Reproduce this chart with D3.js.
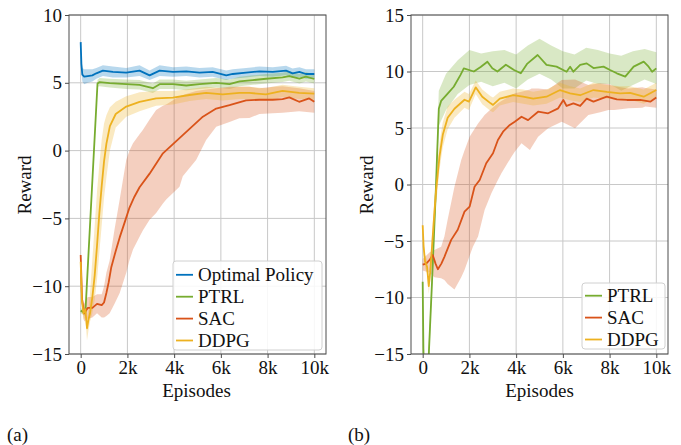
<!DOCTYPE html>
<html>
<head>
<meta charset="utf-8">
<script src="https://cdn.jsdelivr.net/npm/d3@7"></script>
<style>
  body { margin: 0; background: #fff; }
  svg text { font-family: "Liberation Serif", "Times New Roman", serif; fill: #111; }
</style>
</head>
<body>
<div id="chart"></div>
<script>
// ---------- panel (a) ----------
var optA_ep   = [0, 30, 70, 150, 300, 500, 670, 950, 1380, 1950, 2520, 2950, 3380, 3950, 4520, 5090, 5650, 6230, 6510, 7080, 7650, 8220, 8790, 9070, 9360, 9640, 10000]
var optA_mean = [8.0, 6.4, 5.6, 5.45, 5.5, 5.55, 5.7, 5.9, 5.8, 5.75, 5.9, 5.55, 5.9, 5.8, 5.85, 5.75, 5.8, 5.55, 5.65, 5.75, 5.85, 5.8, 5.9, 5.7, 5.8, 5.65, 5.65]
var optA_hi   = [8.1, 6.8, 6.1, 6.0, 6.0, 6.0, 6.1, 6.3, 6.2, 6.1, 6.3, 5.9, 6.3, 6.15, 6.2, 6.1, 6.15, 5.9, 6.0, 6.1, 6.2, 6.15, 6.25, 6.05, 6.15, 6.0, 6.0]
var optA_lo   = [7.9, 6.0, 5.1, 4.9, 5.0, 5.1, 5.3, 5.5, 5.4, 5.4, 5.5, 5.2, 5.5, 5.45, 5.5, 5.4, 5.45, 5.2, 5.3, 5.4, 5.5, 5.45, 5.55, 5.35, 5.45, 5.3, 5.3]

var ptrlA_ep   = [0, 100, 200, 720, 810, 1240, 1950, 2520, 3090, 3380, 3950, 4520, 5090, 5800, 6370, 6800, 7370, 7930, 8640, 8930, 9360, 9640, 10000]
var ptrlA_mean = [-11.8, -11.9, -12.0, 4.95, 5.05, 4.97, 4.9, 4.85, 4.6, 4.9, 4.9, 4.8, 4.9, 5.0, 4.9, 5.1, 5.2, 5.3, 5.4, 5.5, 5.3, 5.45, 5.28]
var ptrlA_hi   = [-11.6, -11.7, -11.8, 5.2, 5.35, 5.3, 5.25, 5.2, 4.95, 5.25, 5.25, 5.15, 5.25, 5.35, 5.25, 5.45, 5.55, 5.65, 5.75, 5.85, 5.65, 5.8, 5.6]
var ptrlA_lo   = [-12.0, -12.1, -12.2, 4.7, 4.75, 4.65, 4.55, 4.5, 4.25, 4.55, 4.55, 4.45, 4.55, 4.65, 4.55, 4.75, 4.85, 4.95, 5.05, 5.15, 4.95, 5.1, 4.95]

var sacA_ep   = [0, 60, 150, 300, 500, 700, 900, 1000, 1100, 1200, 1310, 1500, 1670, 1900, 2090, 2300, 2520, 2950, 3520, 4090, 4660, 5230, 5800, 6370, 7080, 7650, 8220, 8640, 8930, 9350, 9780, 10000]
var sacA_mean = [-7.7, -11.0, -12.0, -11.6, -11.6, -11.3, -11.4, -11.2, -10.5, -9.7, -8.6, -7.4, -6.4, -5.2, -4.2, -3.4, -2.7, -1.7, -0.2, 0.7, 1.6, 2.5, 3.1, 3.35, 3.7, 3.75, 3.75, 3.8, 3.93, 3.6, 3.85, 3.6]
var sacA_bandEp = [0, 60, 150, 300, 500, 700, 900, 1000, 1100, 1240, 1450, 1670, 1950, 2090, 2240, 2520, 2660, 2950, 3230, 3520, 3660, 4230, 4370, 4940, 5370, 5800, 6370, 6790, 7220, 7650, 8220, 8640, 9350, 10000]
var sacA_hi = [-7.4, -10.7, -11.3, -10.8, -10.8, -10.6, -10.6, -10.0, -9.0, -8.1, -5.8, -3.6, -0.7, 0.0, 0.54, 1.2, 1.52, 2.3, 3.0, 3.3, 3.4, 4.0, 4.1, 4.4, 4.5, 4.6, 4.7, 4.7, 4.7, 4.6, 4.7, 4.75, 4.6, 4.4]
var sacA_lo = [-8.0, -11.6, -12.6, -12.4, -12.3, -12.0, -12.3, -12.3, -12.2, -12.0, -11.3, -10.5, -9.0, -8.07, -7.3, -6.35, -5.9, -5.1, -4.6, -3.9, -3.6, -2.66, -1.9, -0.69, 0.78, 1.76, 2.1, 2.38, 2.4, 2.7, 2.75, 2.8, 2.9, 2.8]

var ddpgA_ep   = [0, 50, 120, 200, 270, 330, 400, 500, 600, 700, 800, 900, 1000, 1100, 1250, 1500, 1950, 2520, 3230, 3950, 4660, 5370, 6080, 6790, 7220, 7930, 8640, 9350, 10000]
var ddpgA_mean = [-8.2, -11.0, -12.0, -11.7, -13.1, -12.5, -12.0, -10.8, -9.2, -7.0, -4.6, -2.6, -0.8, 0.5, 1.8, 2.7, 3.25, 3.6, 3.85, 3.9, 4.1, 4.25, 4.15, 4.25, 4.25, 4.15, 4.4, 4.25, 4.2]
var ddpgA_hi   = [-7.8, -10.5, -11.5, -11.2, -12.3, -11.8, -10.5, -8.0, -5.5, -3.0, -1.0, 0.8, 2.0, 2.6, 3.2, 3.6, 4.0, 4.3, 4.4, 4.4, 4.55, 4.7, 4.6, 4.7, 4.7, 4.6, 4.85, 4.7, 4.6]
var ddpgA_lo   = [-8.6, -11.5, -12.5, -12.3, -14.0, -13.3, -12.6, -12.0, -11.0, -9.5, -7.5, -5.5, -3.5, -2.0, 0.0, 1.7, 2.5, 2.9, 3.3, 3.4, 3.65, 3.8, 3.7, 3.8, 3.8, 3.7, 3.95, 3.8, 3.75]

// ---------- panel (b) ----------
var ptrlB_ep   = [0, 30, 80, 150, 220, 260, 400, 550, 690, 790, 1050, 1330, 1620, 1760, 2190, 2480, 2770, 2980, 3200, 3560, 3910, 4200, 4480, 4920, 5300, 5730, 6160, 6310, 6450, 6740, 7020, 7310, 7740, 8020, 8310, 8670, 9030, 9460, 9670, 9820, 10000]
var ptrlB_mean = [-8.6, -14.5, -18.0, -19.0, -17.5, -15.1, -8.6, -1.2, 6.7, 7.4, 8.0, 8.65, 9.7, 10.28, 10.0, 10.4, 10.87, 10.28, 10.0, 10.6, 10.13, 9.84, 10.7, 11.46, 10.58, 10.43, 9.98, 10.43, 9.98, 10.58, 10.72, 10.3, 10.43, 10.13, 9.84, 9.54, 10.43, 10.87, 10.43, 9.98, 10.28]
var ptrlB_bandEp = [0, 30, 80, 150, 220, 260, 400, 550, 690, 1000, 1500, 2000, 2500, 3000, 3500, 4000, 4500, 5000, 5500, 6000, 6500, 7000, 7500, 8000, 8500, 9000, 9500, 10000]
var ptrlB_hi = [-8.2, -13.5, -16.5, -17.5, -16.0, -14.0, -7.8, -0.2, 8.3, 9.8, 11.0, 11.9, 11.6, 11.8, 11.9, 11.5, 12.3, 12.9, 12.3, 11.8, 11.5, 12.1, 11.9, 11.6, 11.4, 11.8, 12.0, 11.7]
var ptrlB_lo = [-9.0, -15.5, -19.5, -20.5, -19.0, -16.2, -9.4, -2.2, 5.2, 6.6, 8.0, 8.8, 9.1, 8.7, 9.0, 8.5, 9.3, 9.8, 9.3, 8.5, 8.5, 9.2, 8.9, 8.9, 8.3, 8.8, 9.3, 8.9]

var sacB_ep   = [0, 150, 290, 430, 550, 650, 800, 930, 1220, 1500, 1790, 2010, 2220, 2440, 2720, 3010, 3220, 3440, 3730, 3940, 4230, 4510, 4940, 5370, 5800, 6020, 6160, 6450, 6740, 7020, 7310, 7880, 8310, 8740, 9310, 9740, 10000]
var sacB_mean = [-7.1, -7.0, -6.7, -6.24, -7.0, -7.5, -7.0, -6.4, -4.9, -4.0, -2.4, -1.96, -0.2, 0.4, 1.88, 2.76, 3.94, 4.67, 5.27, 5.56, 6.0, 5.7, 6.44, 6.3, 6.74, 7.48, 6.95, 7.18, 6.95, 7.6, 7.33, 7.77, 7.54, 7.48, 7.48, 7.33, 7.7]
var sacB_bandEp = [0, 300, 500, 790, 930, 1070, 1360, 1650, 1790, 2010, 2150, 2370, 2650, 2940, 3220, 3370, 3800, 3940, 4230, 4590, 4660, 4940, 5370, 5950, 6520, 7090, 7600, 7950, 8200, 8810, 9400, 9530, 10000]
var sacB_hi = [-6.6, -6.0, -5.8, -5.5, -4.6, -3.1, -0.2, 2.17, 3.0, 4.23, 4.7, 5.4, 6.15, 6.7, 7.19, 7.4, 7.9, 8.07, 8.2, 8.4, 8.5, 8.5, 8.4, 9.25, 9.3, 8.8, 8.95, 8.9, 8.7, 8.5, 8.6, 8.55, 8.4]
var sacB_lo = [-7.6, -7.8, -8.2, -8.3, -8.45, -8.8, -9.3, -8.2, -7.57, -6.3, -5.5, -4.6, -2.26, -0.78, 0.4, 1.0, 2.46, 2.9, 3.65, 3.05, 3.3, 4.23, 4.97, 5.56, 4.97, 6.15, 6.4, 6.6, 6.6, 6.74, 6.8, 6.9, 6.8]

var ddpgB_ep   = [0, 40, 100, 190, 260, 320, 400, 500, 575, 720, 860, 1070, 1360, 1790, 1980, 2270, 2550, 2910, 3010, 3300, 3870, 4300, 4730, 5300, 5880, 6310, 6740, 7310, 7880, 8450, 8880, 9460, 10000]
var ddpgB_mean = [-3.6, -5.5, -6.8, -7.3, -9.0, -7.8, -5.5, -2.5, -0.5, 2.5, 4.4, 5.9, 6.7, 7.5, 7.33, 8.6, 7.77, 7.18, 7.04, 7.6, 7.9, 7.77, 7.6, 7.77, 8.36, 8.07, 7.9, 8.36, 8.2, 8.07, 8.1, 7.77, 8.36]
var ddpgB_hi   = [-3.3, -5.0, -6.2, -6.7, -8.3, -7.0, -4.5, -1.3, 0.8, 3.7, 5.5, 6.9, 7.5, 8.2, 8.0, 9.2, 8.4, 7.8, 7.7, 8.2, 8.5, 8.4, 8.2, 8.4, 9.0, 8.7, 8.5, 9.0, 8.8, 8.7, 8.7, 8.4, 9.0]
var ddpgB_lo   = [-3.9, -6.0, -7.4, -7.9, -9.7, -8.6, -6.5, -3.7, -1.8, 1.3, 3.3, 4.9, 5.9, 6.8, 6.6, 8.0, 7.1, 6.5, 6.4, 7.0, 7.3, 7.15, 7.0, 7.15, 7.7, 7.45, 7.3, 7.7, 7.6, 7.45, 7.5, 7.15, 7.7]

var xTicks = [0, 2000, 4000, 6000, 8000, 10000]
var xTickLabels = ["0", "2k", "4k", "6k", "8k", "10k"]
var yTicksA = [-15, -10, -5, 0, 5, 10]
var yTicksB = [-15, -10, -5, 0, 5, 10, 15]

var colors = {"Optimal Policy": "#0072BD", "PTRL": "#77AC30", "SAC": "#D95319", "DDPG": "#EDB120"}

var svg = d3.select("#chart").append("svg").attr("width", 681).attr("height", 445)

function zip(ep, a, b) {
    return ep.map(function(e, i){ return {x: e, y0: a[i], y1: b ? b[i] : a[i]} })
}

function drawPanel(id, left, right, yDomain, yTicks, series, legendBox, label, labelX) {
    var x = d3.scaleLinear().domain([-500, 10500]).range([left, right])
    var y = d3.scaleLinear().domain(yDomain).range([354, 15])
    var g = svg.append("g")

    // grid
    g.selectAll(".gx").data(xTicks).enter().append("line")
        .attr("x1", d => x(d)).attr("x2", d => x(d)).attr("y1", 15).attr("y2", 354)
        .style("stroke", "#c8c8c8").style("stroke-width", 1)
    g.selectAll(".gy").data(yTicks).enter().append("line")
        .attr("x1", left).attr("x2", right).attr("y1", d => y(d)).attr("y2", d => y(d))
        .style("stroke", "#c8c8c8").style("stroke-width", 1)

    g.append("clipPath").attr("id", "clip" + id).append("rect")
        .attr("x", left).attr("y", 15).attr("width", right - left).attr("height", 339)
    var plot = g.append("g").attr("clip-path", "url(#clip" + id + ")")

    var area = d3.area().x(d => x(d.x)).y0(d => y(d.y0)).y1(d => y(d.y1))
    var line = d3.line().x(d => x(d.x)).y(d => y(d.y0))

    series.forEach(function(s){
        plot.append("path").datum(zip(s.bandEp, s.lo, s.hi)).attr("d", area)
            .style("fill", colors[s.name]).style("fill-opacity", 0.28).style("stroke", "none")
    })
    series.forEach(function(s){
        plot.append("path").datum(zip(s.ep, s.mean)).attr("d", line)
            .style("fill", "none").style("stroke", colors[s.name]).style("stroke-width", 1.8)
            .style("stroke-linejoin", "round")
    })

    // frame
    g.append("rect").attr("x", left).attr("y", 15).attr("width", right - left).attr("height", 339)
        .style("fill", "none").style("stroke", "#4d4d4d").style("stroke-width", 1)

    // axes
    var xAxis = d3.axisBottom(x).tickValues(xTicks).tickFormat((d, i) => xTickLabels[i]).tickSize(4).tickPadding(3)
    var ax = g.append("g").attr("transform", "translate(0,354)").call(xAxis)
    var yAxis = d3.axisLeft(y).tickValues(yTicks).tickFormat(d => d < 0 ? "\u2212" + Math.abs(d) : d).tickSize(4).tickPadding(3)
    var ay = g.append("g").attr("transform", "translate(" + left + ",0)").call(yAxis)
    ;[ax, ay].forEach(function(a){
        a.select(".domain").remove()
        a.selectAll(".tick line").style("stroke", "#4d4d4d")
        a.selectAll(".tick text").style("font-size", "19px").style("fill", "#111")
            .style("font-family", "Liberation Serif, serif")
    })

    g.append("text").attr("x", (left + right) / 2 - (id == "a" ? 1 : 0)).attr("y", 397)
        .attr("text-anchor", "middle").style("font-size", "19px").text("Episodes")
    g.append("text").attr("transform", "translate(" + (left - 38) + ",185) rotate(-90)")
        .attr("text-anchor", "middle").style("font-size", "19px").text("Reward")
    g.append("text").attr("x", labelX).attr("y", 441).style("font-size", "19px").text(label)

    // legend
    var lg = g.append("g")
    lg.append("rect").attr("x", legendBox.x).attr("y", legendBox.y).attr("width", legendBox.w).attr("height", legendBox.h)
        .attr("rx", 3).style("fill", "#fff").style("fill-opacity", 0.85).style("stroke", "#d0d0d0")
    series.forEach(function(s, i){
        var cy = legendBox.y + legendBox.h - 9.5 - (series.length - 1 - i) * 21.9
        lg.append("line").attr("x1", legendBox.x + 3).attr("x2", legendBox.x + 20).attr("y1", cy).attr("y2", cy)
            .style("stroke", colors[s.name]).style("stroke-width", 1.8)
        lg.append("text").attr("x", legendBox.x + 25).attr("y", cy + 6).style("font-size", "19px").text(s.name)
    })
}

drawPanel("a", 69, 326, [-15, 10], yTicksA, [
    {name: "Optimal Policy", ep: optA_ep, mean: optA_mean, bandEp: optA_ep, hi: optA_hi, lo: optA_lo},
    {name: "PTRL", ep: ptrlA_ep, mean: ptrlA_mean, bandEp: ptrlA_ep, hi: ptrlA_hi, lo: ptrlA_lo},
    {name: "SAC", ep: sacA_ep, mean: sacA_mean, bandEp: sacA_bandEp, hi: sacA_hi, lo: sacA_lo},
    {name: "DDPG", ep: ddpgA_ep, mean: ddpgA_mean, bandEp: ddpgA_ep, hi: ddpgA_hi, lo: ddpgA_lo}
], {x: 173, y: 261, w: 149, h: 89}, "(a)", 7)

drawPanel("b", 411, 668, [-15, 15], yTicksB, [
    {name: "PTRL", ep: ptrlB_ep, mean: ptrlB_mean, bandEp: ptrlB_bandEp, hi: ptrlB_hi, lo: ptrlB_lo},
    {name: "SAC", ep: sacB_ep, mean: sacB_mean, bandEp: sacB_bandEp, hi: sacB_hi, lo: sacB_lo},
    {name: "DDPG", ep: ddpgB_ep, mean: ddpgB_mean, bandEp: ddpgB_ep, hi: ddpgB_hi, lo: ddpgB_lo}
], {x: 582, y: 283, w: 83, h: 66}, "(b)", 348)
</script>
</body>
</html>
